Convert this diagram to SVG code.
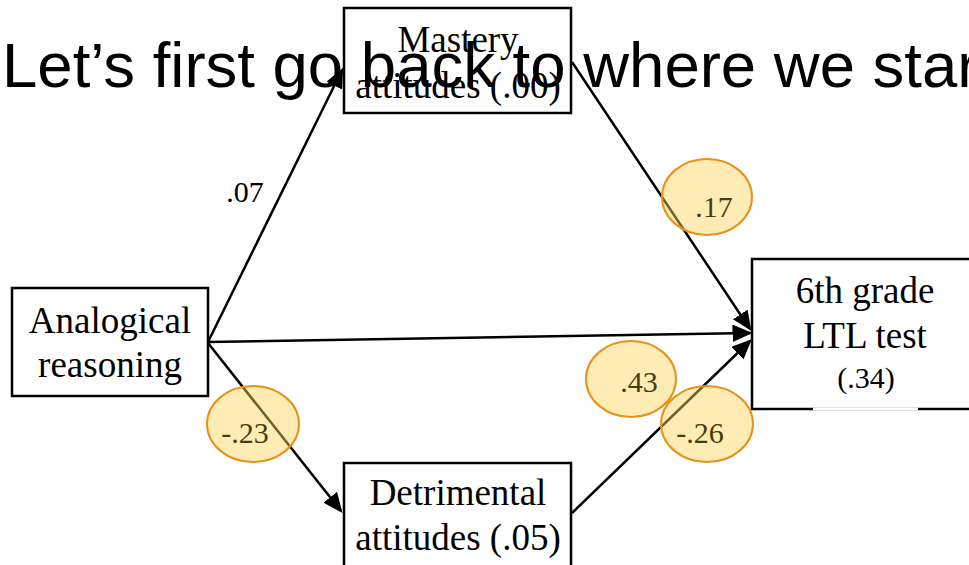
<svg xmlns="http://www.w3.org/2000/svg" width="969" height="565" viewBox="0 0 969 565">
<style>
.box{fill:#fff;stroke:#000;stroke-width:2.5}
.t{font-family:"Liberation Serif","Times New Roman",serif;font-size:37px;fill:#000;text-anchor:middle}
.s{font-family:"Liberation Serif","Times New Roman",serif;font-size:30px;fill:#000;text-anchor:middle}
.o{font-family:"Liberation Serif","Times New Roman",serif;font-size:30px;fill:#4A3B0C;text-anchor:middle}
.edge{stroke:#000;stroke-width:2.5;fill:none;marker-end:url(#arr)}
.oval{fill:#FFD45A;fill-opacity:0.45;stroke:#E8921A;stroke-width:2}
.h{font-family:"Liberation Sans",Arial,sans-serif;font-size:63.5px;fill:#000}
</style>
<defs>
<marker id="arr" markerWidth="8" markerHeight="7" refX="7" refY="3.5" orient="auto" markerUnits="strokeWidth">
<path d="M0,0 L8,3.5 L0,7 z" fill="#000"/>
</marker>
</defs>
<rect width="969" height="565" fill="#fff"/>
<g id="mastery">
<rect class="box" x="344" y="8" width="227" height="105"/>
<text class="t" x="458" y="52">Mastery</text>
<text class="t" x="458" y="98">attitudes (.00)</text>
</g>
<g id="analogical">
<rect class="box" x="12" y="288" width="196" height="108"/>
<text class="t" x="110" y="333">Analogical</text>
<text class="t" x="110" y="377">reasoning</text>
</g>
<g id="ltl">
<rect class="box" x="752" y="259" width="240" height="150"/>
<line x1="813" y1="409" x2="918" y2="409" stroke="#fff" stroke-width="3"/>
<text class="t" x="865" y="303">6th grade</text>
<text class="t" x="865" y="348">LTL test</text>
<text class="s" x="866" y="388">(.34)</text>
</g>
<g id="detrimental">
<rect class="box" x="344" y="463" width="227" height="120"/>
<text class="t" x="458" y="505">Detrimental</text>
<text class="t" x="458" y="550">attitudes (.05)</text>
</g>
<g id="connectors">
<line class="edge" x1="208" y1="342" x2="342" y2="70"/>
<line class="edge" x1="208" y1="342" x2="750" y2="333"/>
<line class="edge" x1="208" y1="343" x2="341" y2="511"/>
<line class="edge" x1="572" y1="62" x2="750" y2="329"/>
<line class="edge" x1="572" y1="513" x2="750" y2="341"/>
</g>
<g id="labels">
<text class="s" x="245" y="202">.07</text>
<ellipse class="oval" cx="707" cy="197" rx="45" ry="38"/>
<text class="o" x="714" y="217">.17</text>
<ellipse class="oval" cx="631" cy="379" rx="45" ry="38"/>
<text class="o" x="639" y="392">.43</text>
<ellipse class="oval" cx="707" cy="424" rx="46" ry="38"/>
<text class="o" x="700" y="443">-.26</text>
<ellipse class="oval" cx="253" cy="424" rx="46" ry="38"/>
<text class="o" x="245" y="443">-.23</text>
</g>
<text class="h" x="2" y="87">Let’s first go back to where we started</text>
</svg>
